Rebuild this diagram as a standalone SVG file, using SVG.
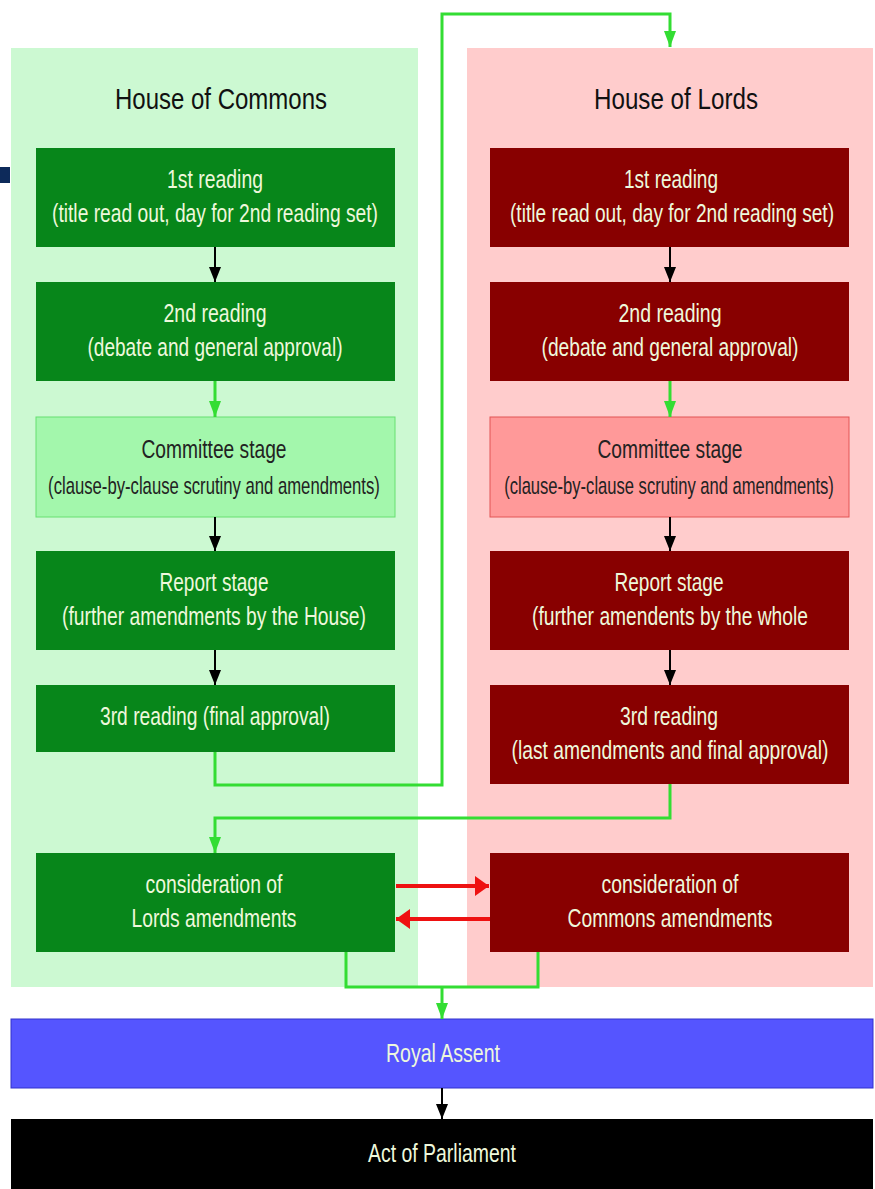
<svg xmlns="http://www.w3.org/2000/svg" width="875" height="1189" viewBox="0 0 875 1189">
<style>
text{font-family:"Liberation Sans",Arial,sans-serif;text-anchor:middle}
.t{font-size:30px;fill:#111}
.w{font-size:26px;fill:#eef8dc}
.d{font-size:26px;fill:#222}
.s{font-size:24px}
.cg{fill:#07861a}
.cr{fill:#880000}
.g{stroke:#33dd33;stroke-width:3;fill:none}
.k{stroke:#000;stroke-width:2;fill:none}
.r{stroke:#ee1111;stroke-width:4;fill:none}
</style>
<defs>
<marker id="ag" markerWidth="16" markerHeight="12" refX="16" refY="6" orient="auto" markerUnits="userSpaceOnUse" viewBox="0 0 16 12"><path d="M0,0L16,6L0,12z" fill="#33dd33"/></marker>
<marker id="ak" markerWidth="15" markerHeight="12" refX="15" refY="6" orient="auto" markerUnits="userSpaceOnUse" viewBox="0 0 15 12"><path d="M0,0L15,6L0,12z" fill="#000"/></marker>
<marker id="ar" markerWidth="14" markerHeight="20" refX="14" refY="10" orient="auto" markerUnits="userSpaceOnUse" viewBox="0 0 14 20"><path d="M0,0L14,10L0,20z" fill="#ee1111"/></marker>
</defs>
<rect width="875" height="1189" fill="#fff"/>
<rect x="0" y="167" width="10" height="16" fill="#0d2a5a"/>
<g id="commons">
<rect x="11" y="48" width="407" height="939" fill="#ccf9d2"/>
<text class="t" transform="translate(221,109) scale(0.8,1)" textLength="265" lengthAdjust="spacingAndGlyphs">House of Commons</text>
</g>
<g id="lords">
<rect x="467" y="48" width="406" height="939" fill="#ffcccc"/>
<text class="t" transform="translate(676,109) scale(0.8,1)" textLength="205" lengthAdjust="spacingAndGlyphs">House of Lords</text>
</g>
<g id="c1"><rect class="cg" x="36" y="148" width="359" height="99"/>
<text class="w" transform="translate(215,188) scale(0.8,1)" textLength="120" lengthAdjust="spacingAndGlyphs">1st reading</text>
<text class="w" transform="translate(215,222) scale(0.8,1)" textLength="407.5" lengthAdjust="spacingAndGlyphs">(title read out, day for 2nd reading set)</text></g>
<g id="c2"><rect class="cg" x="36" y="282" width="359" height="99"/>
<text class="w" transform="translate(215,322) scale(0.8,1)" textLength="128.75" lengthAdjust="spacingAndGlyphs">2nd reading</text>
<text class="w" transform="translate(215,356) scale(0.8,1)" textLength="318.75" lengthAdjust="spacingAndGlyphs">(debate and general approval)</text></g>
<g id="c3"><rect x="36" y="417" width="359" height="100" fill="#a3f7ac" stroke="#66e070" stroke-width="1"/>
<text class="d" transform="translate(214,458) scale(0.8,1)" textLength="181.25" lengthAdjust="spacingAndGlyphs">Committee stage</text>
<text class="d s" transform="translate(214,494) scale(0.7,1)" textLength="474" lengthAdjust="spacingAndGlyphs">(clause-by-clause scrutiny and amendments)</text></g>
<g id="c4"><rect class="cg" x="36" y="551" width="359" height="99"/>
<text class="w" transform="translate(214,591) scale(0.8,1)" textLength="136.25" lengthAdjust="spacingAndGlyphs">Report stage</text>
<text class="w" transform="translate(214,625) scale(0.8,1)" textLength="380" lengthAdjust="spacingAndGlyphs">(further amendments by the House)</text></g>
<g id="c5"><rect class="cg" x="36" y="685" width="359" height="67"/>
<text class="w" transform="translate(215,725) scale(0.8,1)" textLength="287.5" lengthAdjust="spacingAndGlyphs">3rd reading (final approval)</text></g>
<g id="c6"><rect class="cg" x="36" y="853" width="359" height="99"/>
<text class="w" transform="translate(214,893) scale(0.8,1)" textLength="171.25" lengthAdjust="spacingAndGlyphs">consideration of</text>
<text class="w" transform="translate(214,927) scale(0.8,1)" textLength="206.25" lengthAdjust="spacingAndGlyphs">Lords amendments</text></g>
<g id="l1"><rect class="cr" x="490" y="148" width="359" height="99"/>
<text class="w" transform="translate(671,188) scale(0.8,1)" textLength="117.5" lengthAdjust="spacingAndGlyphs">1st reading</text>
<text class="w" transform="translate(672,222) scale(0.8,1)" textLength="405" lengthAdjust="spacingAndGlyphs">(title read out, day for 2nd reading set)</text></g>
<g id="l2"><rect class="cr" x="490" y="282" width="359" height="99"/>
<text class="w" transform="translate(670,322) scale(0.8,1)" textLength="128.75" lengthAdjust="spacingAndGlyphs">2nd reading</text>
<text class="w" transform="translate(670,356) scale(0.8,1)" textLength="321.25" lengthAdjust="spacingAndGlyphs">(debate and general approval)</text></g>
<g id="l3"><rect x="490" y="417" width="359" height="100" fill="#ff9999" stroke="#e25555" stroke-width="1"/>
<text class="d" transform="translate(670,458) scale(0.8,1)" textLength="181.25" lengthAdjust="spacingAndGlyphs">Committee stage</text>
<text class="d s" transform="translate(669,494) scale(0.7,1)" textLength="471" lengthAdjust="spacingAndGlyphs">(clause-by-clause scrutiny and amendments)</text></g>
<g id="l4"><rect class="cr" x="490" y="551" width="359" height="99"/>
<text class="w" transform="translate(669,591) scale(0.8,1)" textLength="136.25" lengthAdjust="spacingAndGlyphs">Report stage</text>
<text class="w" transform="translate(670,625) scale(0.8,1)" textLength="345" lengthAdjust="spacingAndGlyphs">(further amendents by the whole</text></g>
<g id="l5"><rect class="cr" x="490" y="685" width="359" height="99"/>
<text class="w" transform="translate(669,725) scale(0.8,1)" textLength="122.5" lengthAdjust="spacingAndGlyphs">3rd reading</text>
<text class="w" transform="translate(670,759) scale(0.8,1)" textLength="396.25" lengthAdjust="spacingAndGlyphs">(last amendments and final approval)</text></g>
<g id="l6"><rect class="cr" x="490" y="853" width="359" height="99"/>
<text class="w" transform="translate(670,893) scale(0.8,1)" textLength="171.25" lengthAdjust="spacingAndGlyphs">consideration of</text>
<text class="w" transform="translate(670,927) scale(0.8,1)" textLength="256.25" lengthAdjust="spacingAndGlyphs">Commons amendments</text></g>
<g id="royal"><rect x="11" y="1019" width="862" height="69" fill="#5555ff" stroke="#3333cc" stroke-width="1"/>
<text class="w" transform="translate(443,1062) scale(0.8,1)" textLength="142.5" lengthAdjust="spacingAndGlyphs">Royal Assent</text></g>
<g id="act"><rect x="11" y="1119" width="862" height="70" fill="#000"/>
<text class="w" transform="translate(442,1162) scale(0.8,1)" textLength="185" lengthAdjust="spacingAndGlyphs">Act of Parliament</text></g>
<g id="connectors">
<path class="k" d="M215,247V282" marker-end="url(#ak)"/>
<path class="g" d="M215,381V417" marker-end="url(#ag)"/>
<path class="k" d="M215,517V551" marker-end="url(#ak)"/>
<path class="k" d="M215,650V685" marker-end="url(#ak)"/>
<path class="k" d="M670,247V282" marker-end="url(#ak)"/>
<path class="g" d="M670,381V417" marker-end="url(#ag)"/>
<path class="k" d="M670,517V551" marker-end="url(#ak)"/>
<path class="k" d="M670,650V685" marker-end="url(#ak)"/>
<path class="g" d="M215,752V785H442V14H670V47" marker-end="url(#ag)"/>
<path class="g" d="M670,784V818H215V853" marker-end="url(#ag)"/>
<path class="r" d="M396,886H489" marker-end="url(#ar)"/>
<path class="r" d="M490,919H396" marker-end="url(#ar)"/>
<path class="g" d="M346,952V987H538V952"/>
<path class="g" d="M442,987V1019" marker-end="url(#ag)"/>
<path class="k" d="M442,1088V1119" marker-end="url(#ak)"/>
</g>
</svg>
